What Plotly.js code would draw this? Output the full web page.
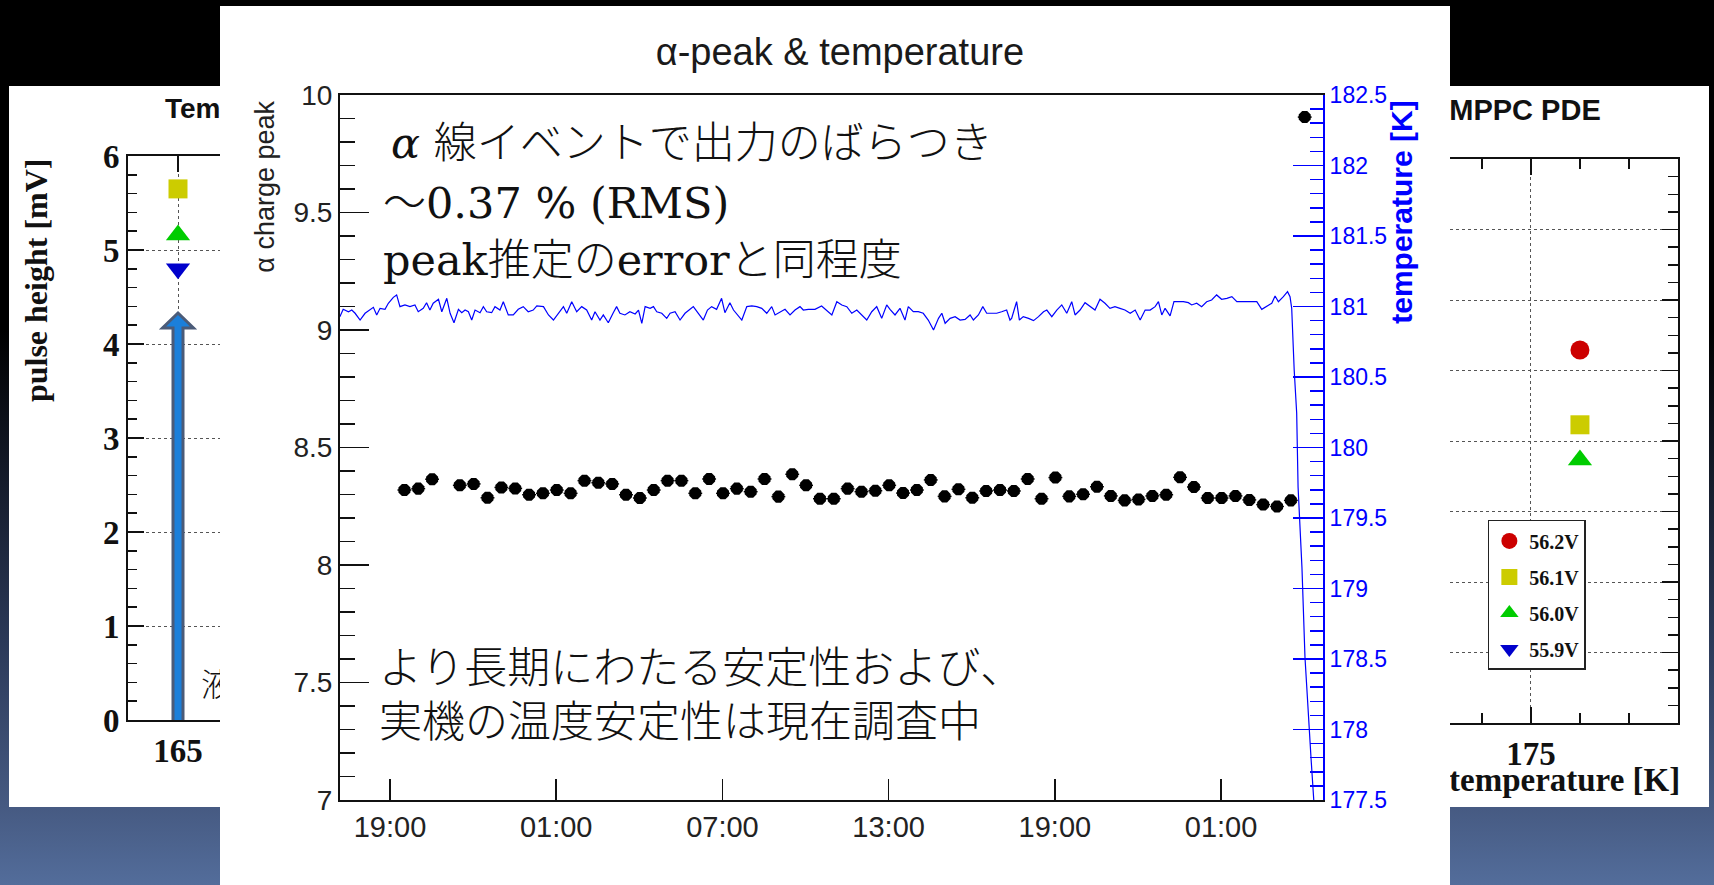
<!DOCTYPE html>
<html>
<head>
<meta charset="utf-8">
<script src="https://cdn.plot.ly/plotly-3.0.1.min.js"></script>
<style>
  html, body { margin: 0; padding: 0; width: 1714px; height: 885px; overflow: hidden; }
  body {
    position: relative;
    background: linear-gradient(to bottom, #000 0px, #000 330px, #2b3958 640px, #465a82 807px, #536d9b 885px);
  }
  .panel { position: absolute; background: #fff; }
  #pulse { left: 9px;    top: 86px; width: 600px;  height: 721px; z-index: 1; }
  #pde   { left: 1100px; top: 86px; width: 609px;  height: 721px; z-index: 1; }
  #alpha { left: 220px;  top: 6px;  width: 1230px; height: 879px; z-index: 3; }
</style>
</head>
<body>
<div id="pulse" class="panel"></div>
<div id="pde" class="panel"></div>
<div id="alpha" class="panel"></div>
<script>
// ---------- long-run alpha peak monitor (hours after 19:00 on day 1) ----------
const hourTicks  = [0, 6, 12, 18, 24, 30];
const hourLabels = ['19:00', '01:00', '07:00', '13:00', '19:00', '01:00'];

const peakHours = [
  0.52, 1.02, 1.52, 2.52, 3.02, 3.52, 4.02, 4.52, 5.02, 5.52,
  6.02, 6.52, 7.02, 7.52, 8.02, 8.52, 9.02, 9.52, 10.02, 10.52,
  11.02, 11.52, 12.02, 12.52, 13.02, 13.52, 14.02, 14.52, 15.02, 15.52,
  16.02, 16.52, 17.02, 17.52, 18.02, 18.52, 19.02, 19.52, 20.02, 20.52,
  21.02, 21.52, 22.02, 22.52, 23.02, 23.52, 24.02, 24.52, 25.02, 25.52,
  26.02, 26.52, 27.02, 27.52, 28.02, 28.52, 29.02, 29.52, 30.02, 30.52,
  31.02, 31.52, 32.02, 32.52, 33.02
];
const alphaPeak = [
  8.319, 8.325, 8.365, 8.339, 8.345, 8.286, 8.330, 8.326, 8.299, 8.305,
  8.319, 8.305, 8.359, 8.350, 8.345, 8.299, 8.285, 8.319, 8.359, 8.359,
  8.305, 8.366, 8.305, 8.325, 8.312, 8.366, 8.291, 8.386, 8.339, 8.282,
  8.282, 8.325, 8.312, 8.316, 8.339, 8.306, 8.319, 8.362, 8.292, 8.322,
  8.286, 8.315, 8.319, 8.315, 8.366, 8.282, 8.372, 8.292, 8.301, 8.333,
  8.294, 8.275, 8.279, 8.294, 8.299, 8.373, 8.332, 8.285, 8.285, 8.294,
  8.277, 8.257, 8.249, 8.275, 9.906
];
const peakBinHalfWidth = 0.25;

const tempHours = [
  -1.81, -1.69, -1.50, -1.38, -1.26, -1.08, -0.90, -0.72, -0.60, -0.48,
  -0.36, -0.18, -0.06, 0.12, 0.24, 0.36, 0.54, 0.72, 0.90, 1.02,
  1.20, 1.32, 1.44, 1.56, 1.75, 1.87, 2.05, 2.17, 2.31, 2.47,
  2.59, 2.71, 2.83, 2.95, 3.07, 3.25, 3.37, 3.49, 3.67, 3.79,
  3.97, 4.09, 4.27, 4.45, 4.63, 4.81, 4.99, 5.17, 5.30, 5.54,
  5.72, 5.90, 6.08, 6.26, 6.38, 6.56, 6.74, 6.92, 7.10, 7.28,
  7.40, 7.58, 7.70, 7.88, 8.06, 8.18, 8.30, 8.48, 8.66, 8.85,
  8.97, 9.09, 9.21, 9.39, 9.51, 9.63, 9.81, 9.99, 10.11, 10.29,
  10.47, 10.65, 10.83, 10.95, 11.13, 11.31, 11.46, 11.61, 11.79, 11.97,
  12.09, 12.27, 12.40, 12.58, 12.70, 12.88, 13.06, 13.24, 13.42, 13.60,
  13.78, 13.90, 14.08, 14.26, 14.44, 14.62, 14.80, 14.92, 15.10, 15.34,
  15.58, 15.76, 15.95, 16.13, 16.31, 16.49, 16.67, 16.85, 17.03, 17.21,
  17.39, 17.57, 17.75, 17.93, 18.05, 18.23, 18.41, 18.59, 18.71, 18.89,
  19.07, 19.25, 19.43, 19.62, 19.80, 19.92, 20.04, 20.22, 20.40, 20.58,
  20.76, 20.94, 21.06, 21.24, 21.40, 21.54, 21.72, 21.90, 22.08, 22.26,
  22.38, 22.44, 22.53, 22.62, 22.72, 22.86, 23.05, 23.23, 23.41, 23.59,
  23.71, 23.89, 24.07, 24.25, 24.43, 24.61, 24.73, 24.91, 25.09, 25.27,
  25.45, 25.63, 25.81, 25.99, 26.17, 26.35, 26.53, 26.72, 26.90, 27.08,
  27.26, 27.44, 27.62, 27.74, 27.86, 27.98, 28.16, 28.30, 28.46, 28.64,
  28.82, 28.94, 29.12, 29.30, 29.48, 29.66, 29.84, 30.02, 30.21, 30.39,
  30.57, 30.75, 30.93, 31.11, 31.29, 31.47, 31.65, 31.83, 31.95, 32.07,
  32.25, 32.40, 32.49, 32.55, 32.64, 32.73, 32.78, 32.92, 33.03, 33.14,
  33.25, 33.36
];
const tempKelvin = [
  180.928, 180.980, 180.963, 180.975, 180.952, 180.904, 180.952, 180.980, 180.994, 180.940,
  180.987, 180.980, 181.023, 181.065, 181.082, 180.999, 181.011, 180.999, 181.011, 180.963,
  180.987, 181.027, 180.975, 181.023, 181.051, 180.963, 181.058, 180.952, 180.885, 180.980,
  180.956, 180.975, 180.963, 180.904, 180.975, 180.956, 180.999, 180.963, 180.956, 180.999,
  180.975, 181.034, 180.940, 180.940, 180.980, 180.999, 180.963, 180.975, 181.004, 180.999,
  180.940, 180.904, 180.952, 180.999, 180.952, 181.034, 180.963, 180.999, 180.975, 180.904,
  180.963, 180.904, 180.940, 180.885, 180.956, 180.999, 180.952, 180.940, 180.963, 180.947,
  180.975, 180.881, 180.999, 180.987, 180.999, 180.963, 180.952, 180.916, 180.952, 180.963,
  180.904, 180.952, 180.980, 180.999, 180.952, 180.904, 180.975, 180.999, 180.980, 181.058,
  180.956, 181.027, 180.975, 180.928, 180.904, 180.999, 181.004, 180.999, 180.987, 180.952,
  180.999, 180.940, 180.963, 180.980, 180.940, 180.975, 180.999, 180.975, 180.980, 180.980,
  181.004, 180.975, 180.940, 181.034, 181.011, 180.999, 180.952, 180.975, 180.940, 180.904,
  180.963, 180.999, 180.916, 181.011, 180.980, 180.940, 180.987, 180.904, 180.999, 180.963,
  180.963, 180.952, 180.904, 180.834, 180.916, 180.952, 180.881, 180.916, 180.928, 180.904,
  180.909, 180.940, 180.904, 180.940, 180.999, 180.952, 180.952, 180.952, 180.963, 180.975,
  180.904, 180.916, 180.975, 181.034, 180.904, 180.928, 180.916, 180.900, 180.928, 180.963,
  180.975, 180.928, 180.975, 181.011, 180.952, 181.034, 180.940, 180.975, 181.027, 180.999,
  180.975, 181.051, 181.023, 180.987, 180.999, 180.987, 180.975, 180.952, 180.975, 180.904,
  180.975, 180.975, 180.999, 181.034, 180.940, 180.987, 180.933, 181.034, 181.034, 181.034,
  181.027, 181.011, 181.023, 180.999, 181.034, 181.046, 181.082, 181.051, 181.058, 181.070,
  181.034, 181.034, 181.034, 181.034, 181.034, 180.980, 180.999, 181.023, 181.075, 181.034,
  181.070, 181.105, 181.070, 180.987, 180.550, 180.245, 179.720, 179.150, 178.510, 178.110,
  177.790, 177.460
];

// ---------- bias-voltage scans ----------
const biasLabels = ['56.2V', '56.1V', '56.0V', '55.9V'];

const pulseTemperature = [165, 165, 165];
const pulseBias        = ['56.1V', '56.0V', '55.9V'];
const pulseHeight      = [5.65, 5.16, 4.80];

// the 55.9V setting has no PDE point in this range; it only appears in the legend
const pdeTemperature = [176, 176, 176, 176];
const pdeBias        = ['56.2V', '56.1V', '56.0V', '55.9V'];
const pdeRelative    = [1.129, 1.023, 0.973, null];

// marker style for each bias setting
const biasStyle = {
  '56.2V': { symbol: 'circle',        color: '#cc0000', size: 19 },
  '56.1V': { symbol: 'square',        color: '#cccc00', size: 19 },
  '56.0V': { symbol: 'triangle-up',   color: '#00cc00', size: 21 },
  '55.9V': { symbol: 'triangle-down', color: '#0000cc', size: 21 }
};

const sans  = 'Liberation Sans, Arial, sans-serif';
const serif = 'Liberation Serif, Times New Roman, serif';
const jp    = 'DejaVu Serif, Noto Sans CJK JP, serif';
const config = { staticPlot: true, displayModeBar: false };

function scanTraces(temps, biases, values, withLegend) {
  return biasLabels.map(function (b) {
    const xs = [], ys = [];
    biases.forEach(function (v, i) { if (v === b) { xs.push(temps[i]); ys.push(values[i]); } });
    const st = biasStyle[b];
    return {
      type: 'scatter', mode: 'markers', name: b, x: xs, y: ys,
      legendgroup: b, showlegend: withLegend,
      marker: { symbol: st.symbol, color: st.color, size: st.size, line: { width: 0 } },
      cliponaxis: false
    };
  });
}

function rootAxis(extra) {
  const base = {
    showline: true, linecolor: '#111', linewidth: 2, mirror: 'allticks',
    ticks: 'inside', ticklen: 16, tickwidth: 1.5, tickcolor: '#111',
    showgrid: true, gridcolor: '#555', griddash: 'dot', gridwidth: 1,
    zeroline: false,
    tickfont: { family: serif, size: 33, weight: 700, color: '#111' }
  };
  return Object.assign(base, extra);
}

// ---------- pulse height panel ----------
Plotly.newPlot('pulse', scanTraces(pulseTemperature, pulseBias, pulseHeight, false), {
  width: 600, height: 721, autosize: false,
  margin: { l: 119, r: 81, t: 70, b: 87 },
  paper_bgcolor: '#fff', plot_bgcolor: '#fff',
  xaxis: rootAxis({ range: [164, 172], dtick: 5,
    minor: { dtick: 1, ticks: 'inside', ticklen: 9, tickcolor: '#111', showgrid: false } }),
  yaxis: rootAxis({ range: [0, 6], dtick: 1,
    minor: { dtick: 0.2, ticks: 'inside', ticklen: 9, tickcolor: '#111', showgrid: false } }),
  shapes: [{
    type: 'path', xref: 'x', yref: 'y', xsizemode: 'pixel', xanchor: 165,
    path: 'M-5,-0.05 L5,-0.05 L5,4.17 L15.5,4.17 L0,4.33 L-15.5,4.17 L-5,4.17 Z',
    fillcolor: '#1b7fda', line: { color: '#4b5b78', width: 3 }, layer: 'above'
  }],
  annotations: [
    { text: 'Temperature dependence of pulse height', xref: 'paper', yref: 'paper',
      x: 0.0875, y: 1.085, xanchor: 'left', yanchor: 'middle', showarrow: false,
      font: { family: sans, size: 28, weight: 700, color: '#111' } },
    { text: 'pulse height [mV]', xref: 'paper', yref: 'paper', x: 0, xshift: -92,
      y: 0.78, xanchor: 'center', yanchor: 'middle', textangle: -90, showarrow: false,
      font: { family: serif, size: 32, weight: 700, color: '#111' } },
    { text: '液体キセノン温度', xref: 'paper', yref: 'paper', x: 0.1775, y: 0.067,
      xanchor: 'left', yanchor: 'middle', showarrow: false,
      font: { family: 'Noto Sans CJK JP, sans-serif', size: 32, weight: 300, color: '#111' } }
  ]
}, config);

// ---------- PDE panel ----------
Plotly.newPlot('pde', scanTraces(pdeTemperature, pdeBias, pdeRelative, true), {
  width: 609, height: 721, autosize: false,
  margin: { l: 200, r: 31, t: 73, b: 84 },
  paper_bgcolor: '#fff', plot_bgcolor: '#fff',
  showlegend: true,
  legend: {
    x: 0.497, y: 0.36, xanchor: 'left', yanchor: 'top',
    bgcolor: '#fff', bordercolor: '#222', borderwidth: 1.5,
    itemwidth: 30, tracegroupgap: 7,
    font: { family: serif, size: 20, weight: 700, color: '#111' }
  },
  xaxis: rootAxis({ range: [170.29, 178], dtick: 5,
    minor: { dtick: 1, ticks: 'inside', ticklen: 10, tickcolor: '#111', showgrid: false } }),
  yaxis: rootAxis({ range: [0.6, 1.4], dtick: 0.1,
    minor: { dtick: 0.025, ticks: 'inside', ticklen: 10, tickcolor: '#111', showgrid: false } }),
  annotations: [
    { text: 'Temperature dependence of MPPC PDE', xref: 'paper', yref: 'paper',
      x: 0.8016, y: 1.087, xanchor: 'right', yanchor: 'middle', showarrow: false,
      font: { family: sans, size: 29, weight: 700, color: '#111' } },
    { text: 'temperature [K]', xref: 'paper', yref: 'paper', x: 1.0106, y: -0.101,
      xanchor: 'right', yanchor: 'middle', showarrow: false,
      font: { family: serif, size: 33, weight: 700, color: '#111' } }
  ]
}, config);

// ---------- alpha peak & temperature ----------
const peakTrace = {
  type: 'scatter', mode: 'markers', name: 'α charge peak',
  x: peakHours, y: alphaPeak,
  marker: { symbol: 'octagon', size: 13, color: '#000' },
  error_x: { type: 'constant', value: peakBinHalfWidth, color: '#000', thickness: 1.5, width: 0 },
  showlegend: false
};
const tempTrace = {
  type: 'scatter', mode: 'lines', name: 'temperature',
  x: tempHours, y: tempKelvin, yaxis: 'y2',
  line: { color: '#0000ff', width: 1.2 },
  showlegend: false
};
const jpText = { family: jp, size: 43, weight: 300, color: '#111' };

Plotly.newPlot('alpha', [tempTrace, peakTrace], {
  width: 1230, height: 879, autosize: false,
  margin: { l: 120, r: 127, t: 89, b: 85 },
  paper_bgcolor: '#fff', plot_bgcolor: '#fff',
  title: { text: 'α-peak & temperature', xref: 'container', yref: 'container',
    x: 0.504, y: 0.948, xanchor: 'center', yanchor: 'middle',
    font: { family: sans, size: 38, color: '#1a1a1a' } },
  xaxis: {
    range: [-1.805, 33.68], tickvals: hourTicks, ticktext: hourLabels,
    ticks: 'inside', ticklen: 21, tickwidth: 1.5, tickcolor: '#111',
    showline: true, linecolor: '#111', linewidth: 2, mirror: true,
    showgrid: false, zeroline: false,
    tickfont: { family: sans, size: 29, color: '#222' }
  },
  yaxis: {
    range: [7, 10], dtick: 0.5, tick0: 7,
    ticks: 'inside', ticklen: 29, tickwidth: 1.5, tickcolor: '#111',
    minor: { dtick: 0.1, ticks: 'inside', ticklen: 15, tickwidth: 1.5, tickcolor: '#111', showgrid: false },
    showline: true, linecolor: '#111', linewidth: 2,
    showgrid: false, zeroline: false,
    tickfont: { family: sans, size: 28, color: '#222' }
  },
  yaxis2: {
    overlaying: 'y', side: 'right', range: [177.5, 182.5], dtick: 0.5,
    ticks: 'inside', ticklen: 30, tickwidth: 1.5, tickcolor: '#0000ff',
    minor: { dtick: 0.1, ticks: 'inside', ticklen: 13, tickwidth: 1.5, tickcolor: '#0000ff', showgrid: false },
    showline: true, linecolor: '#0000ff', linewidth: 2,
    showgrid: false, zeroline: false,
    tickfont: { family: sans, size: 23, color: '#0000ff' }
  },
  annotations: [
    { text: 'α charge peak', xref: 'paper', yref: 'paper', x: 0, xshift: -75, y: 0.870,
      xanchor: 'center', yanchor: 'middle', textangle: -90, showarrow: false,
      font: { family: sans, size: 27, color: '#222' } },
    { text: 'temperature [K]', xref: 'paper', yref: 'paper', x: 1, xshift: 79, y: 0.833,
      xanchor: 'center', yanchor: 'middle', textangle: -90, showarrow: false,
      font: { family: sans, size: 30, weight: 700, color: '#0000ff' } },
    { text: '<i>α</i> 線イベントで出力のばらつき', xref: 'paper', yref: 'paper', x: 0.050, y: 0.932,
      xanchor: 'left', yanchor: 'middle', showarrow: false, font: jpText },
    { text: '〜0.37 % (RMS)', xref: 'paper', yref: 'paper', x: 0.0417, y: 0.847,
      xanchor: 'left', yanchor: 'middle', showarrow: false, font: jpText },
    { text: 'peak推定のerrorと同程度', xref: 'paper', yref: 'paper', x: 0.0417, y: 0.766,
      xanchor: 'left', yanchor: 'middle', showarrow: false, font: jpText },
    { text: 'より長期にわたる安定性および、', xref: 'paper', yref: 'paper', x: 0.0376, y: 0.187,
      xanchor: 'left', yanchor: 'middle', showarrow: false, font: jpText },
    { text: '実機の温度安定性は現在調査中', xref: 'paper', yref: 'paper', x: 0.0376, y: 0.111,
      xanchor: 'left', yanchor: 'middle', showarrow: false, font: jpText }
  ]
}, config);
</script>
</body>
</html>
